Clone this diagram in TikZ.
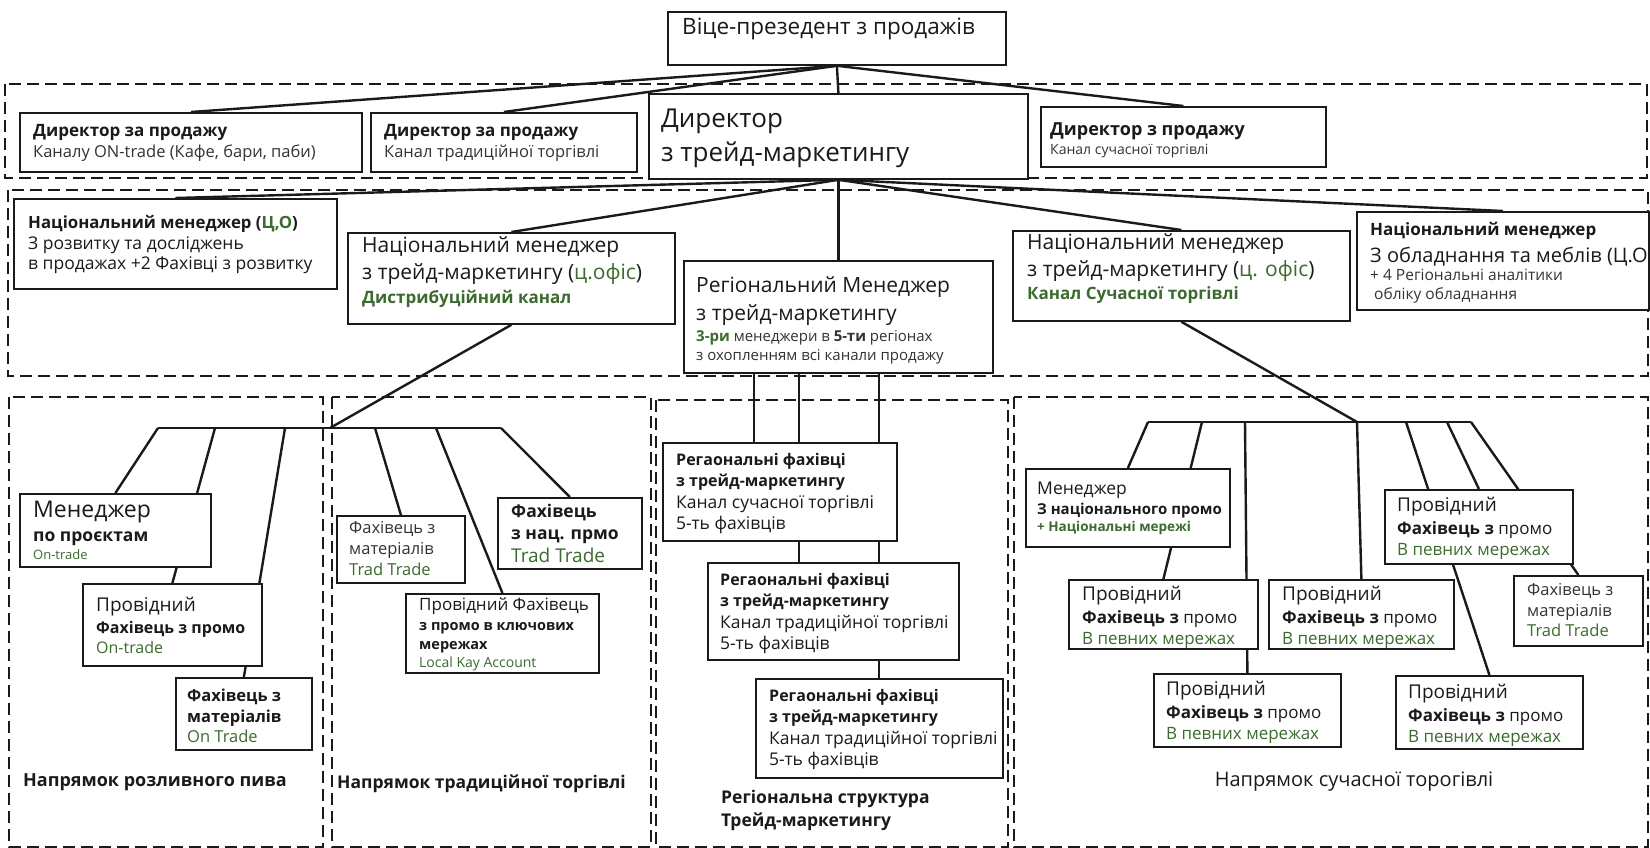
\documentclass[tikz,border=0pt]{standalone}
\usepackage{fontspec}
\setmainfont{Open Sans}
\pgfdeclarelayer{bg}
\pgfsetlayers{bg,main}

\definecolor{ink}{HTML}{1A1A1A}
\definecolor{subink}{HTML}{333333}
\definecolor{tgreen}{HTML}{3B6B2E}
\newcommand{\fsz}[2]{\fontsize{#1}{#2}\selectfont}

\tikzset{
  orgbox/.style={draw=ink, line width=1.8pt, fill=white, anchor=north west, inner sep=0pt},
  sz/.style 2 args={minimum width=#1pt, minimum height=#2pt},
  lbl/.style={anchor=base west, align=left, inner sep=0pt, text=ink},
  zone/.style={draw=ink, line width=1.4pt, dash pattern=on 12pt off 6pt},
  link/.style={draw=ink, line width=2.4pt},
}

\begin{document}
\begin{tikzpicture}[x=1pt,y=-1pt]
\useasboundingbox (0,0) rectangle (1650,848);

% boxes
\node[orgbox, sz={338}{53}] (vp) at (667,11) {};
\node[orgbox, sz={342}{59}] (dirA) at (19,112) {};
\node[orgbox, sz={266}{59}] (dirB) at (370,112) {};
\node[orgbox, sz={379}{85}] (dtm) at (648,93) {};
\node[orgbox, sz={285}{60}] (dirD) at (1040,106) {};

\node[orgbox, sz={323}{90}] (nm1) at (13,198) {};
\node[orgbox, sz={327}{91}] (nm2) at (347,232) {};
\node[orgbox, sz={309}{112}] (rm) at (683,260) {};
\node[orgbox, sz={337}{90}] (nm3) at (1012,230) {};
\node[orgbox, sz={292}{98}] (nm4) at (1356,211) {};

\node[orgbox, sz={191}{73}] (mgr1) at (19,493) {};
\node[orgbox, sz={179}{82}] (prov1) at (82,583) {};
\node[orgbox, sz={136}{72}] (fah1) at (175,677) {};
\node[orgbox, sz={128}{67}] (trad1) at (336,515) {};
\node[orgbox, sz={193}{79}] (key) at (405,593) {};
\node[orgbox, sz={144}{71}] (natp) at (497,497) {};

\node[orgbox, sz={234}{98}] (rb1) at (662,442) {};
\node[orgbox, sz={251}{97}] (rb2) at (707,562) {};
\node[orgbox, sz={247}{99}] (rb3) at (755,678) {};

\node[orgbox, sz={204}{78}] (m2) at (1025,468) {};
\node[orgbox, sz={189}{69}] (p1) at (1068,579) {};
\node[orgbox, sz={185}{69}] (p2) at (1268,579) {};
\node[orgbox, sz={187}{73}] (p3) at (1153,673) {};
\node[orgbox, sz={188}{74}] (p4) at (1384,489) {};
\node[orgbox, sz={129}{70}] (trad2) at (1513,575) {};
\node[orgbox, sz={187}{73}] (p5) at (1395,675) {};

% bar ticks
\foreach \n/\x in {1/158,2/215,3/285,4/330,5/375,6/436,7/501}
  \coordinate (tl\n) at (\x,428);
\foreach \n/\x in {1/1148,2/1202,3/1245,4/1357,5/1406,6/1447,7/1471}
  \coordinate (tr\n) at (\x,422);

\begin{pgfonlayer}{bg}
\draw[zone] (5,84) rectangle (1647,178);
\draw[zone] (8,190) rectangle (1648,376);
\draw[zone] (9,397) rectangle (323,847);
\draw[zone] (332,397) rectangle (651,847);
\draw[zone] (656,400) rectangle (1008,847);
\draw[zone] (1014,397) rectangle (1648,847);

\foreach \b in {dirA,dirB,dtm,dirD}
  \draw[link] (vp.south) -- (\b.north);
\foreach \b in {nm1,nm2,rm,nm3,nm4}
  \draw[link] (dtm.south) -- (\b.north);

\draw[link] (nm2.south) -- (tl4);
\draw[link] (tl1) -- (tl7);
\foreach \a/\b in {tl1/mgr1,tl2/prov1,tl3/fah1,tl5/trad1,tl6/key,tl7/natp}
  \draw[link] (\a) -- (\b.north);

\foreach \x/\b in {754/rb1,799/rb2,879/rb3}
  \draw[link] (rm.south -| \x,0) -- (\b.north -| \x,0);

\draw[link] (nm3.south) -- (tr4);
\draw[link] (tr1) -- (tr7);
\foreach \a/\b in {tr1/m2,tr2/p1,tr3/p3,tr4/p2,tr5/p5,tr6/p4,tr7/trad2}
  \draw[link] (\a) -- (\b.north);
\end{pgfonlayer}

% texts (placed at the baseline of their last line)
\node[lbl, font=\fsz{22.5}{26}] (vpt) at (682,35) {Віце-презедент з продажів};
\node[lbl, font=\fsz{16.5}{21}] (dirAt) at (33,158)
  {{\bfseries\fsz{17}{21}Директор за продажу}\\{\color{subink}Каналу ON-trade (Кафе, бари, паби)}};
\node[lbl, font=\fsz{16.5}{21}] (dirBt) at (384,158)
  {{\bfseries\fsz{17}{21}Директор за продажу}\\{\color{subink}Канал традиційної торгівлі}};
\node[lbl, font=\fsz{26}{35}] (dtmt) at (661,162) {Директор\\з трейд-маркетингу};
\node[lbl, font=\fsz{14}{19}] (dirDt) at (1050,155)
  {{\bfseries\fsz{18}{19}Директор з продажу}\\{\color{subink}Канал сучасної торгівлі}};

\node[lbl, font=\fsz{17.5}{20}] (nm1t) at (28,269)
  {{\bfseries\fsz{16.8}{20}Національний менеджер (\textcolor{tgreen}{Ц,О})}\\[1pt]З розвитку та досліджень\\в продажах +2 Фахівці з розвитку};
\node[lbl, font=\fsz{21}{27}] (nm2t) at (362,303)
  {Національний менеджер\\з трейд-маркетингу (\textcolor{tgreen}{ц.офіс})\\[-3pt]{\bfseries\fsz{17}{20}\color{tgreen}Дистрибуційний канал}};
\node[lbl, font=\fsz{21}{21}] (rmt) at (696,360)
  {Регіональний Менеджер\\[7pt]з трейд-маркетингу\\{\fsz{15}{18}\color{subink}\textcolor{tgreen}{\bfseries 3-ри} менеджери в {\bfseries 5-ти} регіонах}\\[-2pt]{\fsz{15}{18}\color{subink}з охопленням всі канали продажу}};
\node[lbl, font=\fsz{21}{27}] (nm3t) at (1027,299)
  {Національний менеджер\\з трейд-маркетингу (\textcolor{tgreen}{ц. офіс})\\[-4pt]{\bfseries\fsz{17}{20}\color{tgreen}Канал Сучасної торгівлі}};
\node[lbl, font=\fsz{20}{19}] (nm4t) at (1370,299)
  {{\bfseries\fsz{17}{19}Національний менеджер}\\[6pt]З обладнання та меблів (Ц.О\\[-1pt]{\fsz{15.5}{17}\color{subink}+ 4 Регіональні аналітики}\\{\fsz{15.5}{17}\color{subink}\ обліку обладнання}};

\node[lbl, font=\fsz{17.5}{18}] (mgr1t) at (33,559)
  {{\fsz{23}{24}Менеджер}\\[6pt]{\bfseries по проєктам}\\{\fsz{13}{15}\color{tgreen}On-trade}};
\node[lbl, font=\fsz{16}{22}] (prov1t) at (96,653)
  {{\fsz{19}{22}Провідний}\\{\bfseries Фахівець з промо}\\[-2pt]{\color{tgreen}On-trade}};
\node[lbl, font=\fsz{16.5}{21}] (fah1t) at (187,742)
  {{\bfseries Фахівець з}\\{\bfseries матеріалів}\\[-1pt]{\color{tgreen}On Trade}};
\node[lbl, font=\bfseries\fsz{18}{20}] (lab1) at (23,786) {Напрямок розливного пива};

\node[lbl, font=\fsz{16.5}{21}] (trad1t) at (349,575)
  {{\color{subink}Фахівець з}\\{\color{subink}матеріалів}\\{\color{tgreen}Trad Trade}};
\node[lbl, font=\fsz{17}{20}] (keyt) at (419,667)
  {Провідний Фахівець\\{\bfseries\fsz{14.5}{18}з промо в ключових}\\[-1pt]{\bfseries\fsz{14.5}{18}мережах}\\[-2pt]{\fsz{14}{16}\color{tgreen}Local Kay Account}};
\node[lbl, font=\fsz{17.5}{23}] (natpt) at (511,562)
  {{\bfseries Фахівець}\\[-1pt]{\bfseries з нац. прмо}\\{\fsz{19}{22}\color{tgreen}Trad Trade}};
\node[lbl, font=\bfseries\fsz{17.5}{20}] (lab2) at (337,788) {Напрямок традиційної торгівлі};

\foreach \b/\ch/\x/\y in {rb1/сучасної/676/529,rb2/традиційної/720/649,rb3/традиційної/769/765}
  \node[lbl, font=\fsz{17.5}{21}] (\b t) at (\x,\y)
    {{\bfseries\fsz{16}{21}Регаональні фахівці}\\{\bfseries\fsz{16}{21}з трейд-маркетингу}\\[1pt]Канал \ch{} торгівлі\\5-ть фахівців};
\node[lbl, font=\bfseries\fsz{17.5}{23}] (lab3) at (721,826) {Регіональна структура\\Трейд-маркетингу};

\node[lbl, font=\fsz{15}{20}] (m2t) at (1037,531)
  {{\fsz{17.5}{20}Менеджер}\\{\bfseries\fsz{15}{18}З національного промо}\\[-3pt]{\bfseries\fsz{13.5}{16}\color{tgreen}+ Національні мережі}};
\foreach \b/\x/\y in {p1/1082/644,p2/1282/644,p3/1166/739,p4/1397/555,p5/1408/742}
  \node[lbl, font=\fsz{17}{23}] (\b t) at (\x,\y)
    {{\fsz{19}{23}Провідний}\\{\bfseries Фахівець з} промо\\[-2pt]{\color{tgreen}В певних мережах}};
\node[lbl, font=\fsz{16.5}{22}] (trad2t) at (1527,636)
  {{\color{subink}Фахівець з}\\[-1pt]{\color{subink}матеріалів}\\[-2pt]{\color{tgreen}Trad Trade}};
\node[lbl, anchor=base, font=\fsz{20}{22}] (lab4) at (1354,786) {Напрямок сучасної торогівлі};

\end{tikzpicture}
\end{document}
